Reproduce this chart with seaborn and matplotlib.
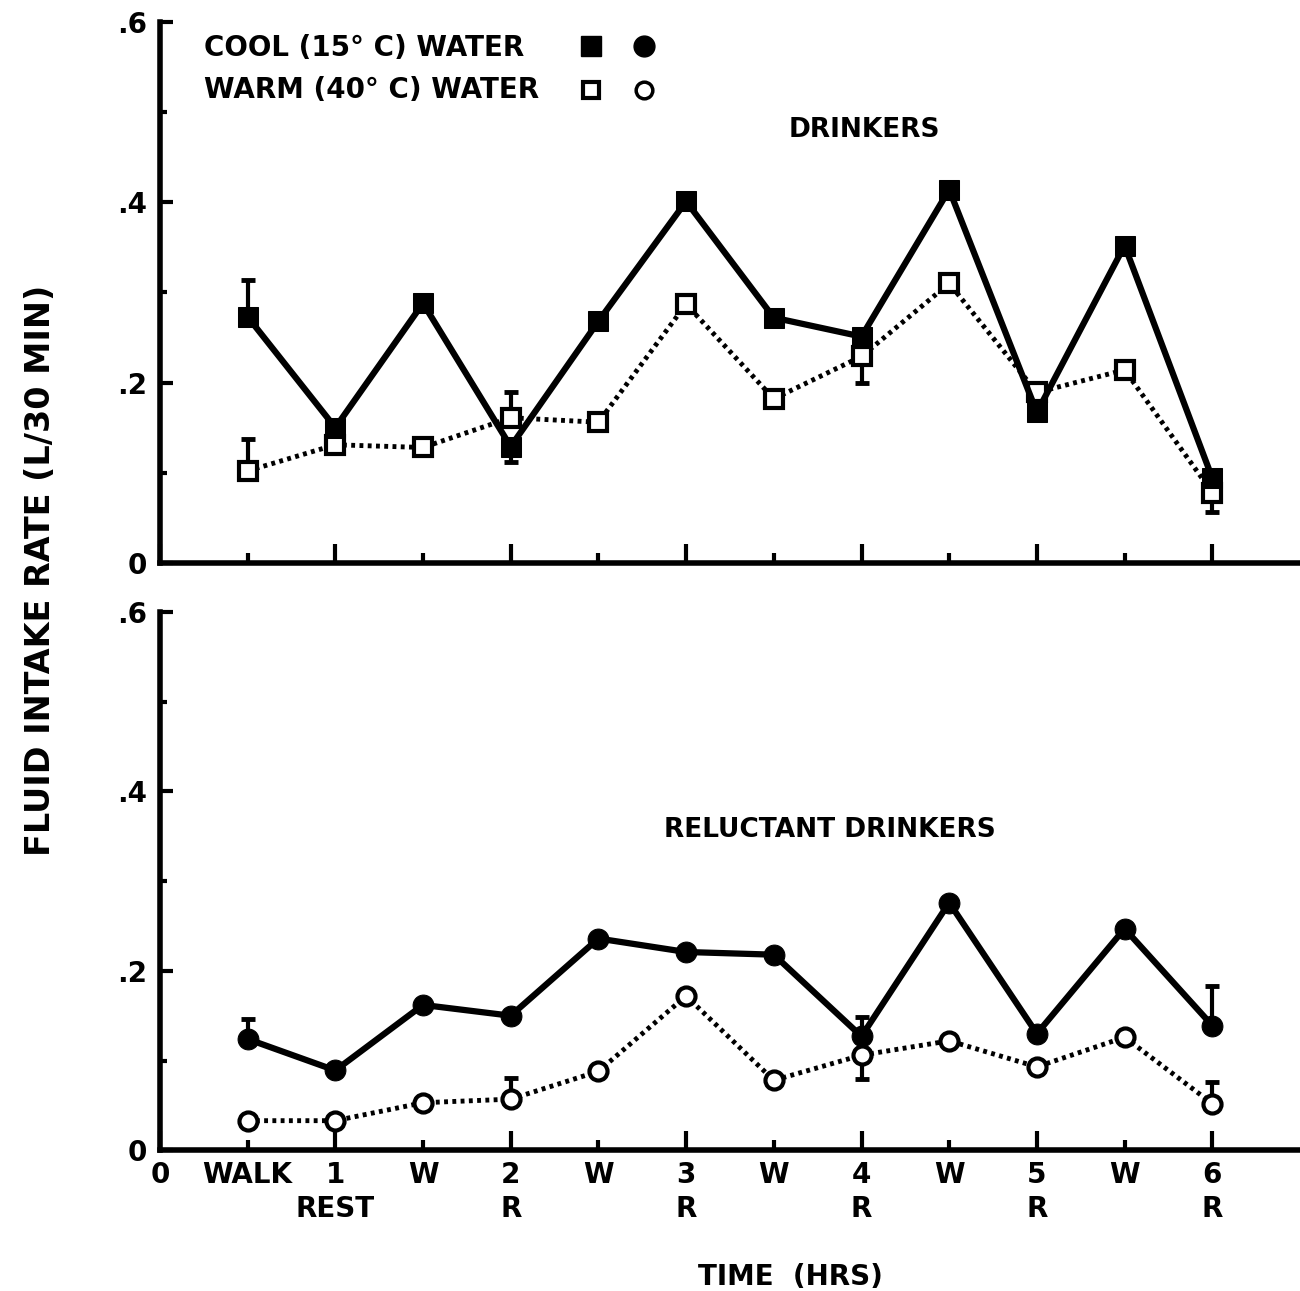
import numpy as np
import matplotlib.pyplot as plt
import seaborn as sns
from matplotlib.lines import Line2D
from matplotlib.legend_handler import HandlerTuple

# half-hour periods (walk / rest alternation)
periods = [1, 2, 3, 4, 5, 6, 7, 8, 9, 10, 11, 12]
major_pos = [0, 2, 4, 6, 8, 10, 12]
major_labels = ["0", "1\nREST", "2\nR", "3\nR", "4\nR", "5\nR", "6\nR"]
minor_pos = [1, 3, 5, 7, 9, 11]
minor_labels = ["WALK", "W", "W", "W", "W", "W"]
y_major = [0, 0.2, 0.4, 0.6]
y_labels = ["0", ".2", ".4", ".6"]
y_minor = [0.1, 0.3, 0.5]
legend_labels = ["COOL (15° C) WATER", "WARM (40° C) WATER"]

# drinkers
drink_cool = [0.273, 0.150, 0.288, 0.129, 0.268, 0.401, 0.272, 0.251, 0.414, 0.167, 0.352, 0.094]
drink_warm = [0.102, 0.131, 0.128, 0.161, 0.156, 0.287, 0.182, 0.229, 0.310, 0.189, 0.214, 0.078]
drink_cool_up = [0.041, 0, 0, 0, 0, 0, 0, 0, 0, 0, 0, 0]
drink_cool_dn = [0, 0, 0, 0.017, 0, 0, 0, 0, 0, 0, 0, 0]
drink_warm_up = [0.035, 0, 0, 0.028, 0, 0, 0, 0, 0, 0, 0, 0]
drink_warm_dn = [0, 0, 0, 0, 0, 0, 0, 0.030, 0, 0, 0, 0.022]

# reluctant drinkers
rel_cool = [0.124, 0.089, 0.162, 0.150, 0.236, 0.221, 0.218, 0.127, 0.276, 0.130, 0.247, 0.139]
rel_warm = [0.033, 0.033, 0.053, 0.057, 0.088, 0.172, 0.078, 0.106, 0.122, 0.093, 0.126, 0.052]
rel_cool_up = [0.022, 0, 0, 0, 0, 0, 0, 0.022, 0, 0, 0, 0.044]
rel_cool_dn = [0, 0, 0, 0, 0, 0, 0, 0, 0, 0, 0, 0]
rel_warm_up = [0, 0, 0, 0.024, 0, 0, 0, 0, 0, 0, 0, 0.024]
rel_warm_dn = [0, 0, 0, 0, 0, 0, 0, 0.026, 0, 0, 0, 0]

sns.set_style("ticks")
plt.rcParams['font.family'] = ['DejaVu Sans']
plt.rcParams['font.weight'] = 'bold'
for k in ['text.color', 'axes.labelcolor', 'xtick.color', 'ytick.color', 'axes.edgecolor']:
    plt.rcParams[k] = 'black'

fig = plt.figure(figsize=(13, 12.91), dpi=100)
ax_top = fig.add_axes([0.123, 0.564, 0.877, 0.419])
ax_bot = fig.add_axes([0.123, 0.109, 0.877, 0.417])


def errbars(ax, y, up, dn):
    y = np.array(y)
    up = np.array(up)
    dn = np.array(dn)
    x = np.array(periods)
    m = (up > 0) | (dn > 0)
    ax.errorbar(x[m], y[m], yerr=[dn[m], up[m]], fmt='none', ecolor='black',
                elinewidth=3, capsize=5, capthick=3.5, zorder=2)


def draw(ax, cool, warm, marker, cu, cd, wu, wd):
    errbars(ax, cool, cu, cd)
    errbars(ax, warm, wu, wd)
    sns.lineplot(x=periods, y=warm, ax=ax, color='black', lw=3.5,
                 linestyle=(0, (0.8, 0.9)), marker=marker, markersize=13,
                 markerfacecolor='white', markeredgecolor='black',
                 markeredgewidth=3, zorder=3)
    sns.lineplot(x=periods, y=cool, ax=ax, color='black', lw=4.5,
                 marker=marker, markersize=15, markerfacecolor='black',
                 markeredgecolor='black', zorder=4)
    ax.set_xlim(0, 13)
    ax.set_ylim(0, 0.6)
    ax.set_xticks(major_pos)
    ax.set_xticks(minor_pos, minor=True)
    ax.set_yticks(y_major, y_labels)
    ax.set_yticks(y_minor, minor=True)
    ax.tick_params(axis='both', which='both', direction='in', width=3,
                   labelsize=20, color='black', labelcolor='black')
    ax.tick_params(axis='x', which='major', length=14, pad=8)
    ax.tick_params(axis='x', which='minor', length=7, pad=8)
    ax.tick_params(axis='y', which='major', length=9, pad=9)
    ax.tick_params(axis='y', which='minor', length=5)
    for s in ['top', 'right']:
        ax.spines[s].set_visible(False)
    for s in ['left', 'bottom']:
        ax.spines[s].set_linewidth(4)
    for lab in ax.get_yticklabels():
        lab.set_fontweight('bold')


draw(ax_top, drink_cool, drink_warm, 's',
     drink_cool_up, drink_cool_dn, drink_warm_up, drink_warm_dn)
draw(ax_bot, rel_cool, rel_warm, 'o',
     rel_cool_up, rel_cool_dn, rel_warm_up, rel_warm_dn)

ax_top.set_xticklabels([])
ax_top.set_xticklabels([], minor=True)
ax_bot.set_xticklabels(major_labels, fontweight='bold', fontsize=20, linespacing=1.25)
ax_bot.set_xticklabels(minor_labels, minor=True, fontweight='bold', fontsize=20)
ax_top.set_xlabel('')
ax_bot.set_xlabel('')

ax_top.text(0.618, 0.80, 'DRINKERS', transform=ax_top.transAxes,
            ha='center', va='center', fontsize=19, fontweight='bold')
ax_bot.text(0.588, 0.595, 'RELUCTANT DRINKERS', transform=ax_bot.transAxes,
            ha='center', va='center', fontsize=19, fontweight='bold')

# legend: left-aligned labels, then square + circle
ax_top.text(0.039, 0.952, legend_labels[0], transform=ax_top.transAxes,
            ha='left', va='center', fontsize=20, fontweight='bold')
ax_top.text(0.039, 0.874, legend_labels[1], transform=ax_top.transAxes,
            ha='left', va='center', fontsize=20, fontweight='bold')
sq_f = Line2D([], [], marker='s', ls='none', ms=14, mfc='black', mec='black')
ci_f = Line2D([], [], marker='o', ls='none', ms=15, mfc='black', mec='black')
sq_o = Line2D([], [], marker='s', ls='none', ms=12, mfc='white', mec='black', mew=3)
ci_o = Line2D([], [], marker='o', ls='none', ms=12, mfc='white', mec='black', mew=2.5)
ax_top.legend([(sq_f, ci_f), (sq_o, ci_o)], ['', ''],
              handler_map={tuple: HandlerTuple(ndivide=None, pad=1.0)},
              frameon=False, loc='center left', bbox_to_anchor=(0.365, 0.913),
              fontsize=17, handlelength=3.5, handletextpad=0.0,
              labelspacing=0.85, borderpad=0.0, borderaxespad=0.0)

fig.text(0.031, 0.558, 'FLUID INTAKE RATE (L/30 MIN)', rotation=90,
         ha='center', va='center', fontsize=24, fontweight='bold')
fig.text(0.608, 0.011, 'TIME  (HRS)', ha='center', va='center',
         fontsize=20, fontweight='bold')

fig.savefig('out.png', dpi=100)
